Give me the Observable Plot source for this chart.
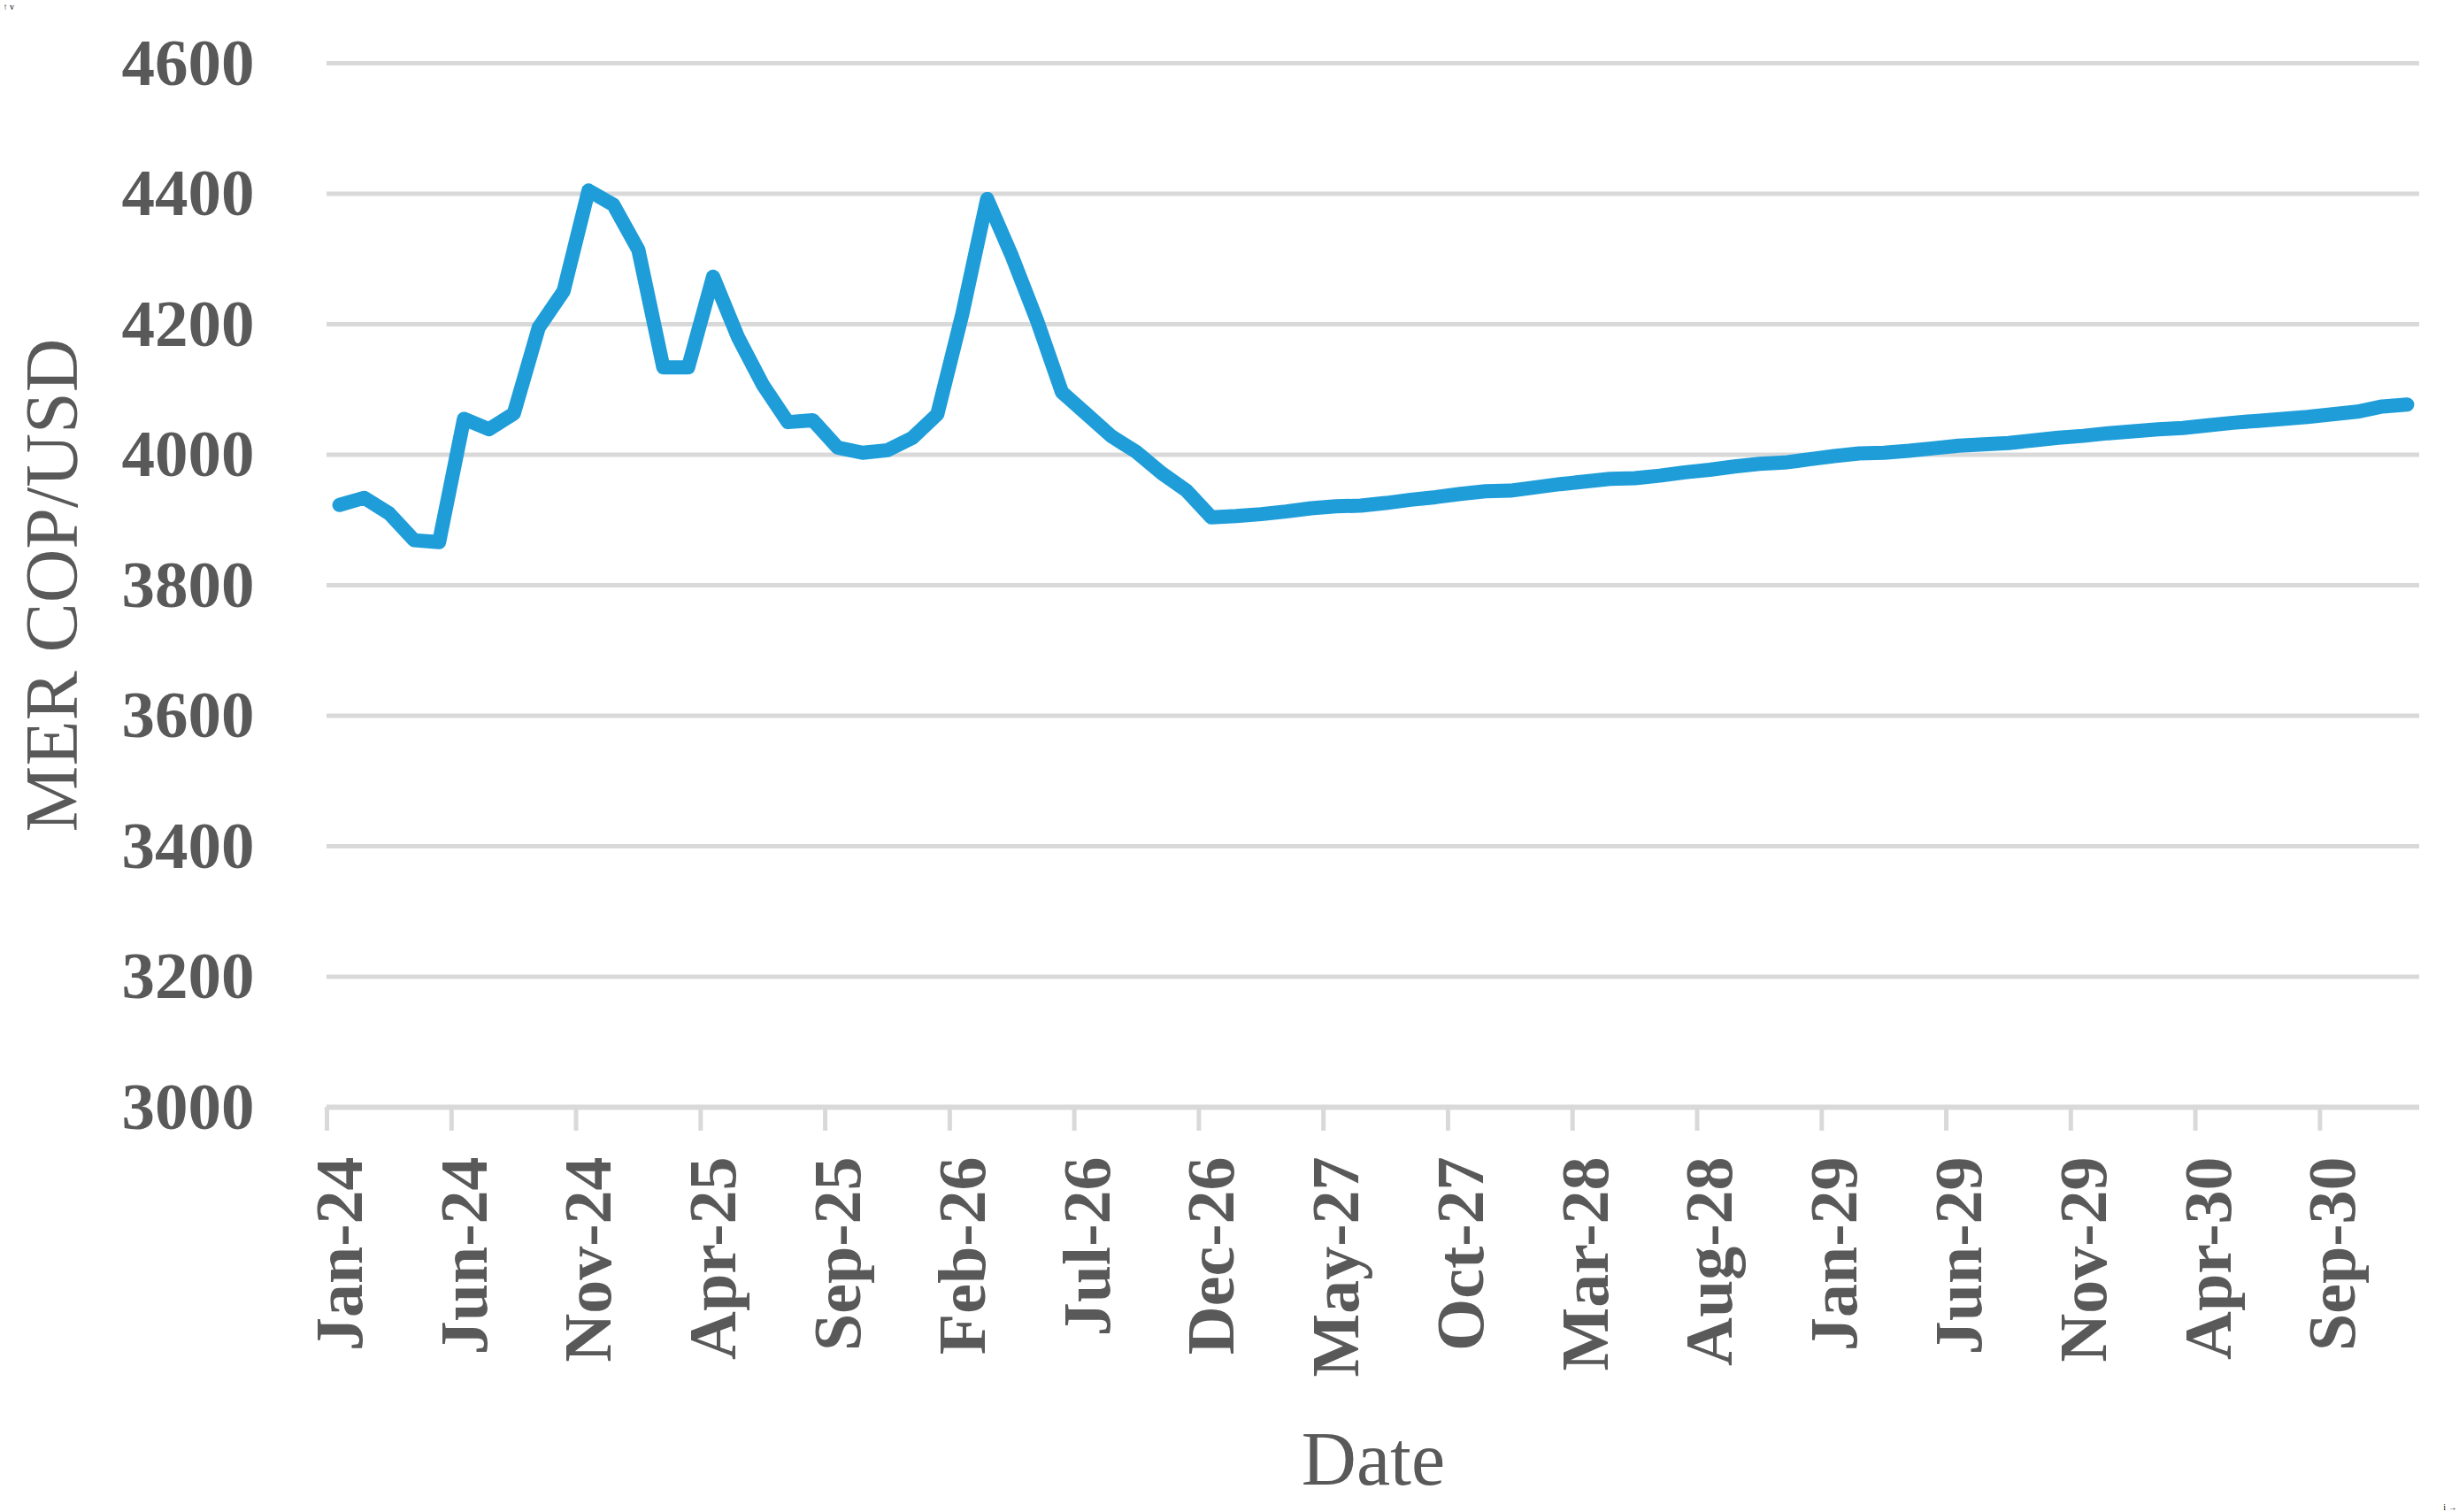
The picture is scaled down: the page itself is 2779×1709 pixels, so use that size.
<!DOCTYPE html>
<html><head><meta charset="utf-8">
<script src="https://cdn.jsdelivr.net/npm/d3@7"></script>
<script src="https://cdn.jsdelivr.net/npm/@observablehq/plot@0.6"></script>
<style>body{margin:0;background:#fff}</style></head>
<body><div id="chart"></div>
<script>
const monthNames = ["Jan","Feb","Mar","Apr","May","Jun","Jul","Aug","Sep","Oct","Nov","Dec"];
const years = ["24","25","26","27","28","29","30"];
const months = years.flatMap(y => monthNames.map(m => `${m}-${y}`));
const values = [
  3923, 3934, 3910, 3869, 3866, 4055, 4039, 4063, 4195, 4251, 4405, 4383,
  4314, 4134, 4134, 4273, 4180, 4107, 4050, 4053, 4011, 4003, 4007, 4026,
  4062, 4215, 4392, 4304, 4206, 4096, 4062, 4028, 4004, 3972, 3945, 3904,
  3906, 3909, 3913, 3918, 3921, 3922, 3926, 3931, 3935, 3940, 3944, 3945,
  3950, 3955, 3959, 3963, 3964, 3968, 3973, 3977, 3982, 3986, 3988, 3993,
  3998, 4002, 4003, 4006, 4010, 4014, 4016, 4018, 4022, 4026, 4029, 4033,
  4036, 4039, 4041, 4045, 4049, 4052, 4055, 4058, 4062, 4066, 4074, 4077
];
const tickLabels = ["Jan-24","Jun-24","Nov-24","Apr-25","Sep-25","Feb-26","Jul-26","Dec-26","May-27","Oct-27","Mar-28","Aug-28","Jan-29","Jun-29","Nov-29","Apr-30","Sep-30"];
const yTicks = [3000, 3200, 3400, 3600, 3800, 4000, 4200, 4400, 4600];

const data = values.map((v, i) => ({i: i + 0.5, v, month: months[i]}));
const tickIdx = tickLabels.map(l => months.indexOf(l));
const gray = "#595959";

const chart = Plot.plot({
  width: 2779, height: 1709,
  marginLeft: 369, marginRight: 45, marginTop: 71, marginBottom: 458,
  style: {background: "white", fontFamily: "Liberation Serif"},
  x: {domain: [0, 84]},
  y: {domain: [3000, 4600]},
  marks: [
    Plot.gridY(yTicks, {stroke: "#d9d9d9", strokeOpacity: 1, strokeWidth: 5}),
    Plot.ruleY([3000], {stroke: "#d9d9d9", strokeWidth: 6}),
    Plot.axisX(tickIdx, {tickSize: 27, tickFormat: () => "", stroke: "#d9d9d9", strokeWidth: 5}),
    Plot.text(tickIdx, {x: d => d + 0.5, frameAnchor: "bottom", text: d => months[d], rotate: -90,
      textAnchor: "end", lineAnchor: "middle", dy: 56, dx: 1, fill: gray, fontSize: 76, fontWeight: "bold", fontFamily: "Liberation Serif"}),
    Plot.axisY(yTicks, {tickSize: 0, tickFormat: () => ""}),
    Plot.text(yTicks, {y: d => d, frameAnchor: "left", text: d => String(d), textAnchor: "end", lineAnchor: "middle",
      dx: -82, fill: gray, fontSize: 75, fontWeight: "bold", fontFamily: "Liberation Serif"}),
    Plot.text(["MER COP/USD"], {frameAnchor: "left", rotate: -90, textAnchor: "middle", lineAnchor: "middle", dx: -309, fill: gray, fontSize: 84, fontFamily: "Liberation Serif"}),
    Plot.text(["Date"], {frameAnchor: "bottom", textAnchor: "middle", lineAnchor: "middle", dy: 399, fill: gray, fontSize: 86, fontFamily: "Liberation Serif"}),
    Plot.line(data, {x: "i", y: "v", stroke: "#1f9dd9", strokeWidth: 16, strokeLinejoin: "round", strokeLinecap: "round"})
  ]
});
document.getElementById("chart").appendChild(chart);
</script>
</body></html>
